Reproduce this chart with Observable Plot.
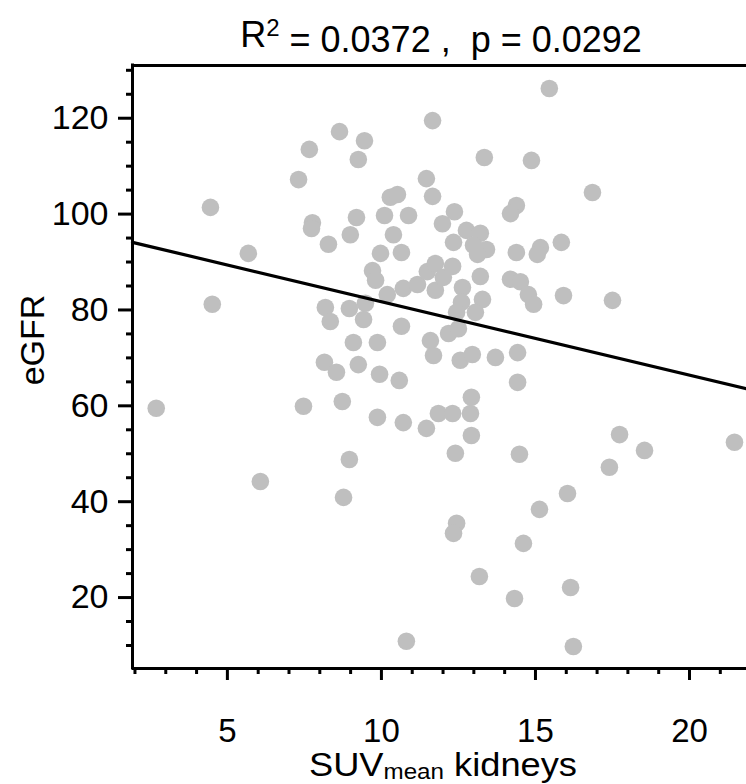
<!DOCTYPE html>
<html><head><meta charset="utf-8">
<script src="https://cdn.jsdelivr.net/npm/d3@7"></script>
<script src="https://cdn.jsdelivr.net/npm/@observablehq/plot@0.6"></script>
<style>
body{margin:0;background:#fff;}
#chart svg{display:block;}
</style>
</head><body><div id="chart"></div>
<script>
// Data
const suv = [15.45,8.64,9.45,7.66,9.25,11.66,13.34,14.87,16.85,7.31,11.46,11.66,4.45,7.76,7.73,9.19,8.99,8.28,5.68,10.29,
  10.52,14.38,14.19,10.10,10.88,10.39,9.97,10.65,12.37,11.98,12.76,13.21,12.34,12.99,13.41,13.12,14.38,15.16,15.06,15.84,
  9.71,9.81,10.19,10.71,11.17,11.49,11.75,11.75,12.01,12.31,12.63,13.21,14.19,14.51,14.77,14.94,15.91,17.5,12.60,12.44,
  13.28,13.05,10.65,12.18,12.5,4.51,8.18,8.34,8.96,9.42,9.48,9.09,9.87,8.15,8.54,9.25,9.94,11.59,11.69,12.56,
  12.95,13.70,14.42,10.58,14.42,7.47,8.73,2.69,9.87,10.71,11.46,11.85,12.31,12.89,12.92,12.92,17.73,18.54,21.46,17.40,
  16.04,15.13,12.40,14.48,8.96,6.07,8.77,12.44,12.34,14.61,13.18,14.32,16.14,10.81,16.23];
const egfr = [126.2,117.2,115.3,113.5,111.4,119.5,111.8,111.2,104.5,107.2,107.4,103.7,101.4,98.2,97.0,99.3,95.7,93.7,91.8,103.5,
  104.1,101.8,100.1,99.7,99.7,95.7,91.8,92.0,100.5,98.0,96.6,96.0,94.1,93.5,92.6,91.6,92.0,93.0,91.6,94.1,
  88.2,86.2,83.2,84.5,85.3,88.0,89.7,84.1,86.8,89.1,84.7,87.0,86.4,85.9,83.2,81.2,83.0,82.0,81.6,79.5,
  82.2,79.5,76.6,75.1,76.1,81.2,80.5,77.6,80.3,78.0,81.4,73.2,73.2,69.1,67.0,68.6,66.6,73.6,70.5,69.5,
  70.7,70.1,71.1,65.3,64.9,59.9,60.9,59.5,57.6,56.5,55.3,58.4,58.4,58.4,61.8,53.8,54.0,50.7,52.4,47.2,
  41.7,38.4,50.1,49.9,48.8,44.2,40.9,35.5,33.4,31.3,24.4,19.8,22.1,10.9,9.8];
const xMajorTicks = [5, 10, 15, 20];
const xMinorTicks = [2,3,4,6,7,8,9,11,12,13,14,16,17,18,19,21];
const yMajorTicks = [20, 40, 60, 80, 100, 120];
const yMinorTicks = [10,15,25,30,35,45,50,55,65,70,75,85,90,95,105,110,115,125,130];
const fitIntercept = 97.05;
const fitSlope = -1.532;
const xDomain = [1.92, 21.85];
const yDomain = [5.2, 131];

const points = suv.map((x, i) => ({x, y: egfr[i]}));
const fit = xDomain.map(x => ({x, y: fitIntercept + fitSlope * x}));

const font = "'Liberation Sans', Arial, Helvetica, sans-serif";

const chart = Plot.plot({
  width: 746, height: 784,
  marginLeft: 132, marginRight: 0, marginTop: 65, marginBottom: 116,
  x: {domain: xDomain},
  y: {domain: yDomain},
  style: {fontFamily: font, fontSize: "34px", color: "#000", background: "#fff", overflow: "visible"},
  marks: [
    Plot.dot(points, {x: "x", y: "y", r: 8.8, fill: "#bfbfbf", stroke: null}),
    Plot.line(fit, {x: "x", y: "y", stroke: "#000", strokeWidth: 3.2}),
    Plot.ruleY([yDomain[1]], {stroke: "#000", strokeWidth: 3}),
    Plot.ruleY([yDomain[0]], {stroke: "#000", strokeWidth: 3}),
    Plot.ruleX([xDomain[0]], {stroke: "#000", strokeWidth: 3, strokeLinecap: "square"}),
    Plot.axisX({ticks: xMajorTicks, tickSize: 12, tickPadding: 38, strokeWidth: 3, label: null, fontSize: 33}),
    Plot.axisX({ticks: xMinorTicks, tickSize: 6, strokeWidth: 3, text: null, label: null}),
    Plot.axisY({ticks: yMajorTicks, tickSize: 14, tickPadding: 10, strokeWidth: 3, label: null, fontSize: 34}),
    Plot.axisY({ticks: yMinorTicks, tickSize: 6, strokeWidth: 3, text: null, label: null})
  ]
});

const svg = d3.select(chart);
// Title with superscript
const title = svg.append("text")
  .attr("x", 441).attr("y", 47)
  .attr("text-anchor", "middle")
  .style("font-family", font).style("font-size", "36px").attr("fill", "#000");
title.append("tspan").text("R");
title.append("tspan").attr("dy", "-0.45em").style("font-size", "24px").text("2");
title.append("tspan").attr("dy", "0.45em").text(" = 0.0372 ,  p = 0.0292");

// Y axis title
svg.append("text")
  .attr("transform", "translate(44,340) rotate(-90)")
  .attr("text-anchor", "middle")
  .style("font-family", font).style("font-size", "34px").attr("fill", "#000")
  .text("eGFR");

// X axis title with subscript
const xt = svg.append("text")
  .attr("x", 443).attr("y", 776)
  .attr("text-anchor", "middle")
  .attr("textLength", 268).attr("lengthAdjust", "spacingAndGlyphs")
  .style("font-family", font).style("font-size", "33px").attr("fill", "#000");
xt.append("tspan").text("SUV");
xt.append("tspan").attr("dy", "3").style("font-size", "22px").text("mean");
xt.append("tspan").attr("dy", "-3").text(" kidneys");

document.getElementById("chart").appendChild(chart);
</script>
</body></html>
